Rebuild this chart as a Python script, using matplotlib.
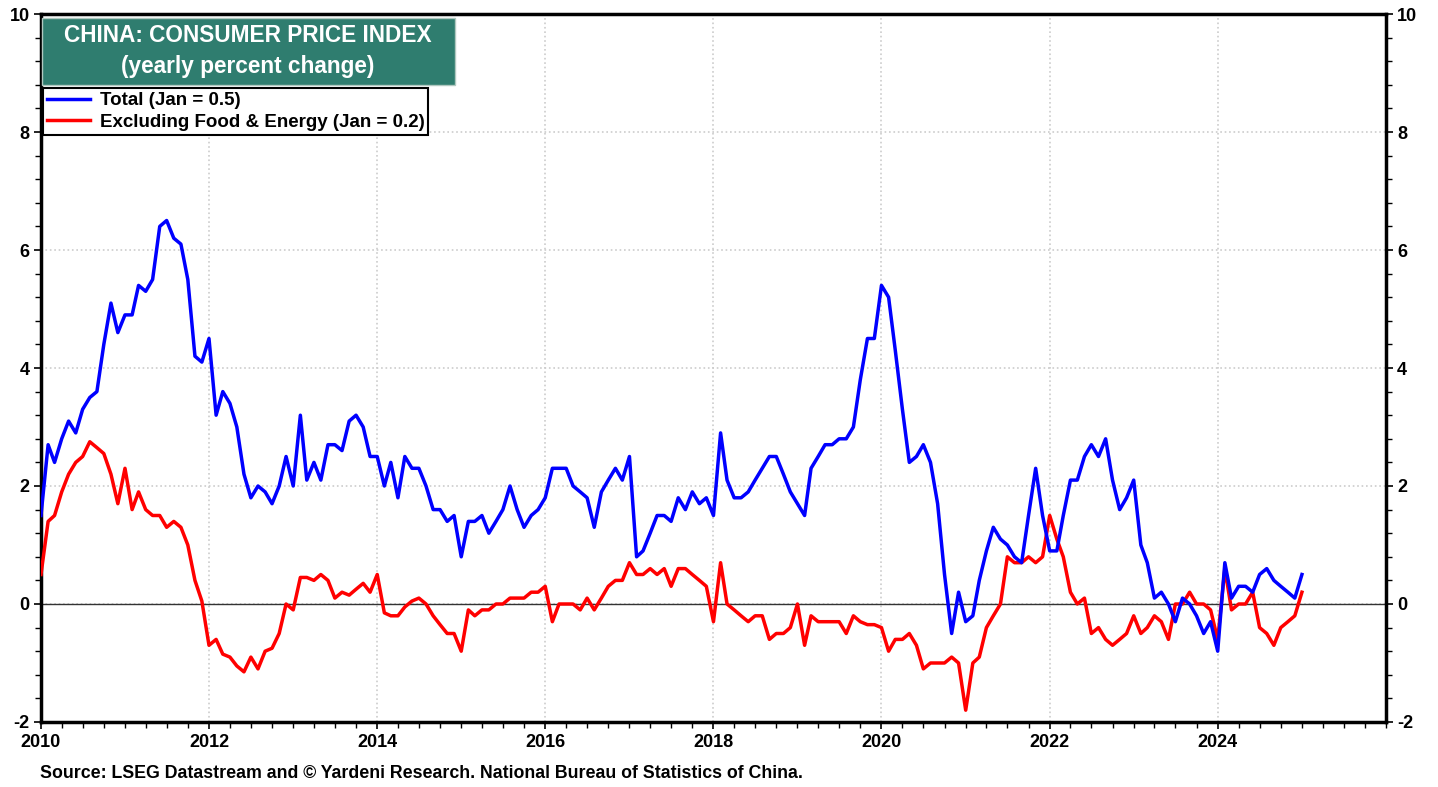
import matplotlib
matplotlib.use("Agg")
import matplotlib.pyplot as plt
import matplotlib.dates as mdates
from matplotlib.ticker import MultipleLocator
from matplotlib.patches import Rectangle
import pandas as pd

plt.rcParams['font.family'] = ['Liberation Sans', 'DejaVu Sans']
plt.rcParams['axes.unicode_minus'] = False

# monthly, Jan 2010 .. Jan 2025
dates = pd.date_range("2010-01-01", "2025-01-01", freq="MS")

total = [
    1.5, 2.7, 2.4, 2.8, 3.1, 2.9, 3.3, 3.5, 3.6, 4.4, 5.1, 4.6,   # 2010
    4.9, 4.9, 5.4, 5.3, 5.5, 6.4, 6.5, 6.2, 6.1, 5.5, 4.2, 4.1,   # 2011
    4.5, 3.2, 3.6, 3.4, 3.0, 2.2, 1.8, 2.0, 1.9, 1.7, 2.0, 2.5,   # 2012
    2.0, 3.2, 2.1, 2.4, 2.1, 2.7, 2.7, 2.6, 3.1, 3.2, 3.0, 2.5,   # 2013
    2.5, 2.0, 2.4, 1.8, 2.5, 2.3, 2.3, 2.0, 1.6, 1.6, 1.4, 1.5,   # 2014
    0.8, 1.4, 1.4, 1.5, 1.2, 1.4, 1.6, 2.0, 1.6, 1.3, 1.5, 1.6,   # 2015
    1.8, 2.3, 2.3, 2.3, 2.0, 1.9, 1.8, 1.3, 1.9, 2.1, 2.3, 2.1,   # 2016
    2.5, 0.8, 0.9, 1.2, 1.5, 1.5, 1.4, 1.8, 1.6, 1.9, 1.7, 1.8,   # 2017
    1.5, 2.9, 2.1, 1.8, 1.8, 1.9, 2.1, 2.3, 2.5, 2.5, 2.2, 1.9,   # 2018
    1.7, 1.5, 2.3, 2.5, 2.7, 2.7, 2.8, 2.8, 3.0, 3.8, 4.5, 4.5,   # 2019
    5.4, 5.2, 4.3, 3.3, 2.4, 2.5, 2.7, 2.4, 1.7, 0.5, -0.5, 0.2,  # 2020
    -0.3, -0.2, 0.4, 0.9, 1.3, 1.1, 1.0, 0.8, 0.7, 1.5, 2.3, 1.5, # 2021
    0.9, 0.9, 1.5, 2.1, 2.1, 2.5, 2.7, 2.5, 2.8, 2.1, 1.6, 1.8,   # 2022
    2.1, 1.0, 0.7, 0.1, 0.2, 0.0, -0.3, 0.1, 0.0, -0.2, -0.5, -0.3, # 2023
    -0.8, 0.7, 0.1, 0.3, 0.3, 0.2, 0.5, 0.6, 0.4, 0.3, 0.2, 0.1,  # 2024
    0.5,                                                          # 2025
]

core = [
    0.5, 1.4, 1.5, 1.9, 2.2, 2.4, 2.5, 2.75, 2.65, 2.55, 2.2, 1.7,   # 2010
    2.3, 1.6, 1.9, 1.6, 1.5, 1.5, 1.3, 1.4, 1.3, 1.0, 0.4, 0.05,     # 2011
    -0.7, -0.6, -0.85, -0.9, -1.05, -1.15, -0.9, -1.1, -0.8, -0.75, -0.5, 0.0,  # 2012
    -0.1, 0.45, 0.45, 0.4, 0.5, 0.4, 0.1, 0.2, 0.15, 0.25, 0.35, 0.2,  # 2013
    0.5, -0.15, -0.2, -0.2, -0.05, 0.05, 0.1, 0.0, -0.2, -0.35, -0.5, -0.5,  # 2014
    -0.8, -0.1, -0.2, -0.1, -0.1, 0.0, 0.0, 0.1, 0.1, 0.1, 0.2, 0.2,  # 2015
    0.3, -0.3, 0.0, 0.0, 0.0, -0.1, 0.1, -0.1, 0.1, 0.3, 0.4, 0.4,   # 2016
    0.7, 0.5, 0.5, 0.6, 0.5, 0.6, 0.3, 0.6, 0.6, 0.5, 0.4, 0.3,      # 2017
    -0.3, 0.7, 0.0, -0.1, -0.2, -0.3, -0.2, -0.2, -0.6, -0.5, -0.5, -0.4,  # 2018
    0.0, -0.7, -0.2, -0.3, -0.3, -0.3, -0.3, -0.5, -0.2, -0.3, -0.35, -0.35,  # 2019
    -0.4, -0.8, -0.6, -0.6, -0.5, -0.7, -1.1, -1.0, -1.0, -1.0, -0.9, -1.0,  # 2020
    -1.8, -1.0, -0.9, -0.4, -0.2, 0.0, 0.8, 0.7, 0.7, 0.8, 0.7, 0.8,  # 2021
    1.5, 1.1, 0.8, 0.2, 0.0, 0.1, -0.5, -0.4, -0.6, -0.7, -0.6, -0.5,  # 2022
    -0.2, -0.5, -0.4, -0.2, -0.3, -0.6, 0.0, 0.0, 0.2, 0.0, 0.0, -0.1,  # 2023
    -0.6, 0.6, -0.1, 0.0, 0.0, 0.2, -0.4, -0.5, -0.7, -0.4, -0.3, -0.2,  # 2024
    0.2,                                                             # 2025
]

year_ticks = [2010, 2012, 2014, 2016, 2018, 2020, 2022, 2024]
source = "Source: LSEG Datastream and \u00a9 Yardeni Research. National Bureau of Statistics of China."

fig = plt.figure(figsize=(14.38, 7.87), dpi=100)
ax = fig.add_axes([0.0285, 0.0826, 0.9353, 0.8996])

ax.plot(dates, total, color="#0000ff", lw=2.5, label="Total (Jan = 0.5)", zorder=4)
ax.plot(dates, core, color="#ff0000", lw=2.5, label="Excluding Food & Energy (Jan = 0.2)", zorder=3)
ax.axhline(0, color="#333333", lw=1, zorder=2)

ax.set_xlim(pd.Timestamp("2010-01-01"), pd.Timestamp("2026-01-01"))
ax.set_ylim(-2, 10)

ax.set_xticks([pd.Timestamp(f"{y}-01-01") for y in year_ticks])
ax.xaxis.set_major_formatter(mdates.DateFormatter("%Y"))
ax.xaxis.set_minor_locator(mdates.MonthLocator(bymonth=[1, 4, 7, 10]))
ax.yaxis.set_major_locator(MultipleLocator(2))
ax.yaxis.set_minor_locator(MultipleLocator(0.4))

ax.grid(True, which="major", color="#cccccc", ls=":", lw=1.2, zorder=1)

for s in ax.spines.values():
    s.set_linewidth(2.5)
    s.set_color("black")

ax.tick_params(axis="both", which="major", direction="out", length=5, width=1.2,
               right=True, labelright=True, pad=3)
ax.tick_params(axis="both", which="minor", direction="out", length=4, width=1, right=True)
ax.tick_params(axis="x", labelsize=13, pad=4)
ax.tick_params(axis="y", labelsize=13)
for t in ax.xaxis.get_major_ticks():
    t.label1.set_fontweight("bold")
for t in ax.yaxis.get_major_ticks():
    t.label1.set_fontweight("bold")
    t.label2.set_fontweight("bold")

# title box
fig.patches.append(Rectangle((42 / 1438, 1 - 85 / 787), 413 / 1438, 67 / 787,
                             transform=fig.transFigure, facecolor="#2f7d6f",
                             edgecolor="#b0c8c0", lw=1, zorder=5))
fig.text(248 / 1438, 1 - 35 / 787, "CHINA: CONSUMER PRICE INDEX", color="white",
         fontsize=16.3, fontweight="bold", ha="center", va="center", zorder=6)
fig.text(248 / 1438, 1 - 67 / 787, "(yearly percent change)", color="white",
         fontsize=16.3, fontweight="bold", ha="center", va="center", zorder=6)

leg = ax.legend(loc="upper left", bbox_to_anchor=(2 / 1345, 1 - 74 / 708),
                frameon=True, fancybox=False, edgecolor="black", framealpha=1,
                prop={"weight": "bold", "size": 13.5}, handlelength=2.3,
                borderpad=0.22, labelspacing=0.22, handletextpad=0.5,
                borderaxespad=0)
leg.get_frame().set_linewidth(1.5)
for line in leg.get_lines():
    line.set_linewidth(2.5)

fig.text(40 / 1438, 1 - 773 / 787, source, fontsize=12.8, fontweight="bold",
         ha="left", va="center")

fig.savefig("out.png", dpi=100)
